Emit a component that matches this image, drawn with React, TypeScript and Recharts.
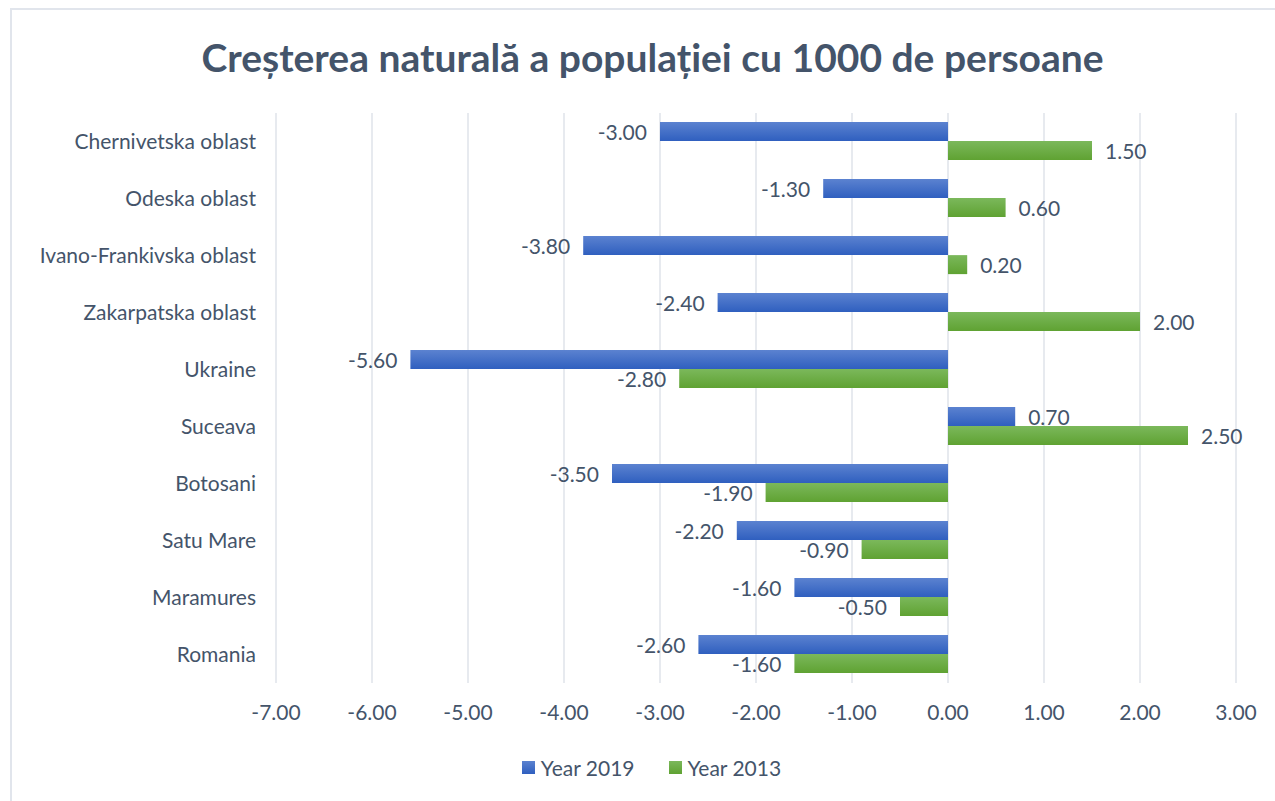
import React from "react";
import {
  BarChart,
  Bar,
  XAxis,
  YAxis,
  CartesianGrid,
  LabelList,
} from "recharts";

const regions = [
  "Chernivetska oblast",
  "Odeska oblast",
  "Ivano-Frankivska oblast",
  "Zakarpatska oblast",
  "Ukraine",
  "Suceava",
  "Botosani",
  "Satu Mare",
  "Maramures",
  "Romania",
];
const year2019 = [-3.0, -1.3, -3.8, -2.4, -5.6, 0.7, -3.5, -2.2, -1.6, -2.6];
const year2013 = [1.5, 0.6, 0.2, 2.0, -2.8, 2.5, -1.9, -0.9, -0.5, -1.6];
const xTicks = [-7, -6, -5, -4, -3, -2, -1, 0, 1, 2, 3];

const data = regions.map((name, i) => ({
  name,
  y2019: year2019[i],
  y2013: year2013[i],
}));

const textColor = "#44546a";
const font = "Lato, 'Open Sans', sans-serif";
const fs = 21;

const ValueLabel = (props: any) => {
  const { x, y, width, height, value } = props;
  const end = value < 0 ? Math.min(x, x + width) : Math.max(x, x + width);
  return (
    <text
      x={value < 0 ? end - 13 : end + 13}
      y={y + height / 2}
      textAnchor={value < 0 ? "end" : "start"}
      dominantBaseline="central"
      fill={textColor}
      fontSize={fs}
      fontFamily={font}
    >
      {Number(value).toFixed(2)}
    </text>
  );
};

const LegendBox = () => (
  <div
    style={{
      position: "absolute",
      top: 755,
      left: 14,
      width: 1275,
      display: "flex",
      justifyContent: "center",
      gap: 34,
      fontFamily: font,
      fontSize: fs,
      color: textColor,
    }}
  >
    <span style={{ display: "flex", alignItems: "center" }}>
      <span
        style={{
          width: 13,
          height: 13,
          marginRight: 6,
          background: "linear-gradient(#5b82d0, #2f5fbf)",
        }}
      />
      Year 2019
    </span>
    <span style={{ display: "flex", alignItems: "center" }}>
      <span
        style={{
          width: 13,
          height: 13,
          marginRight: 6,
          background: "linear-gradient(#7bb85b, #5fa232)",
        }}
      />
      Year 2013
    </span>
  </div>
);

export default function App() {
  return (
    <div
      style={{
        position: "absolute",
        left: 0,
        top: 0,
        width: 1275,
        height: 801,
        background: "#fff",
        overflow: "hidden",
      }}
    >
      <div
        style={{
          position: "absolute",
          left: 10,
          top: 8,
          width: 1300,
          height: 900,
          border: "2px solid #e1e5ec",
        }}
      />
      <div
        style={{
          position: "absolute",
          left: 15,
          top: 34,
          width: 1275,
          textAlign: "center",
          fontFamily: font,
          fontWeight: 700,
          fontSize: 39,
          color: textColor,
        }}
      >
        Creșterea naturală a populației cu 1000 de persoane
      </div>
      <div style={{ position: "absolute", left: 0, top: 0 }}>
        <BarChart
          width={1275}
          height={801}
          data={data}
          layout="vertical"
          margin={{ top: 113, right: 39, bottom: 77, left: 0 }}
          barCategoryGap="16%"
          barGap={0}
        >
          <defs>
            <linearGradient id="gBlue" x1="0" y1="0" x2="0" y2="1">
              <stop offset="0%" stopColor="#5b82d0" />
              <stop offset="100%" stopColor="#2f5fbf" />
            </linearGradient>
            <linearGradient id="gGreen" x1="0" y1="0" x2="0" y2="1">
              <stop offset="0%" stopColor="#7bb85b" />
              <stop offset="100%" stopColor="#5fa232" />
            </linearGradient>
          </defs>
          <CartesianGrid
            horizontal={false}
            stroke="#dfe3ea"
            strokeWidth={1.5}
          />
          <XAxis
            type="number"
            domain={[-7, 3]}
            ticks={xTicks}
            tickFormatter={(v: number) => v.toFixed(2)}
            axisLine={false}
            tickLine={false}
            height={41}
            tickMargin={16}
            tick={{ fill: textColor, fontSize: fs, fontFamily: font }}
          />
          <YAxis
            type="category"
            dataKey="name"
            width={276}
            axisLine={false}
            tickLine={false}
            tickMargin={14}
            tick={{ fill: textColor, fontSize: fs, fontFamily: font }}
          />
          <Bar dataKey="y2019" name="Year 2019" fill="url(#gBlue)" isAnimationActive={false}>
            <LabelList dataKey="y2019" content={<ValueLabel />} />
          </Bar>
          <Bar dataKey="y2013" name="Year 2013" fill="url(#gGreen)" isAnimationActive={false}>
            <LabelList dataKey="y2013" content={<ValueLabel />} />
          </Bar>
        </BarChart>
      </div>
      <LegendBox />
    </div>
  );
}
